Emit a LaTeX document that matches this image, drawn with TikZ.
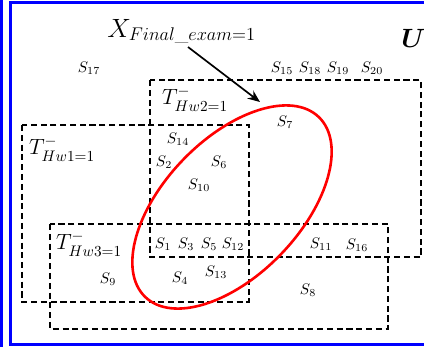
\documentclass[tikz,border=0pt]{standalone}
\usepackage{amsmath,amssymb,bm}
\usetikzlibrary{arrows.meta}
\begin{document}
\begin{tikzpicture}[x=0.6536pt,y=-0.6536pt,
  setbox/.style={line width=0.9pt, dash pattern=on 4pt off 2.4pt},
  lab/.style={inner sep=0pt, font=\normalsize},
  tlab/.style={inner sep=0pt, font=\Large},
  frame/.style={draw=blue, line width=2pt},
  ell/.style={draw=red, line width=1.7pt},
  arr/.style={line width=1.1pt, -{Stealth[length=8pt,width=6.5pt]}}]
\useasboundingbox (0,0) rectangle (424,347);
% blue frame
\draw[frame] (430,2.5) -- (10.5,2.5) -- (10.5,344.5) -- (430,344.5);
\draw[frame] (1.2,-5) -- (1.2,352);
% dashed sets
\draw[setbox] (22,125) rectangle (249,302);
\draw[setbox] (150,80) rectangle (421,257);
\draw[setbox] (50,224) rectangle (388,329);
% red ellipse
\draw[ell, rotate around={46:(232,207)}] (232,207) ellipse [x radius=125, y radius=68];
% labels
\node[inner sep=0pt, anchor=base west, font=\LARGE] (x) at (107,37) {$X_{Final\_exam=1}$};
\node[inner sep=0pt, anchor=base west, font=\LARGE] (u) at (401,47) {$\boldsymbol{U}$};
\coordinate (xa) at (188,47);
\coordinate (xb) at (260,102);
\draw[arr] (xa) -- (xb);
\node[tlab] (t2) at (195,99) {$T^{-}_{Hw2=1}$};
\node[tlab] (t1) at (62,149) {$T^{-}_{Hw1=1}$};
\node[tlab] (t3) at (89,244) {$T^{-}_{Hw3=1}$};
\node[lab] (s17) at (89,68) {$S_{17}$};
\node[lab] (s15) at (282,68) {$S_{15}$};
\node[lab] (s18) at (310,68) {$S_{18}$};
\node[lab] (s19) at (338,68) {$S_{19}$};
\node[lab] (s20) at (372,68) {$S_{20}$};
\node[lab] (s7) at (285,122) {$S_{7}$};
\node[lab] (s14) at (178,139) {$S_{14}$};
\node[lab] (s2) at (164,162) {$S_{2}$};
\node[lab] (s6) at (219,162) {$S_{6}$};
\node[lab] (s10) at (199,185) {$S_{10}$};
\node[lab] (s1) at (163,244) {$S_{1}$};
\node[lab] (s3) at (186,244) {$S_{3}$};
\node[lab] (s5) at (209,244) {$S_{5}$};
\node[lab] (s12) at (233,244) {$S_{12}$};
\node[lab] (s11) at (321,244) {$S_{11}$};
\node[lab] (s16) at (357,245) {$S_{16}$};
\node[lab] (s9) at (108,279) {$S_{9}$};
\node[lab] (s4) at (180,278) {$S_{4}$};
\node[lab] (s13) at (216,272) {$S_{13}$};
\node[lab] (s8) at (308,290) {$S_{8}$};
\end{tikzpicture}
\end{document}
